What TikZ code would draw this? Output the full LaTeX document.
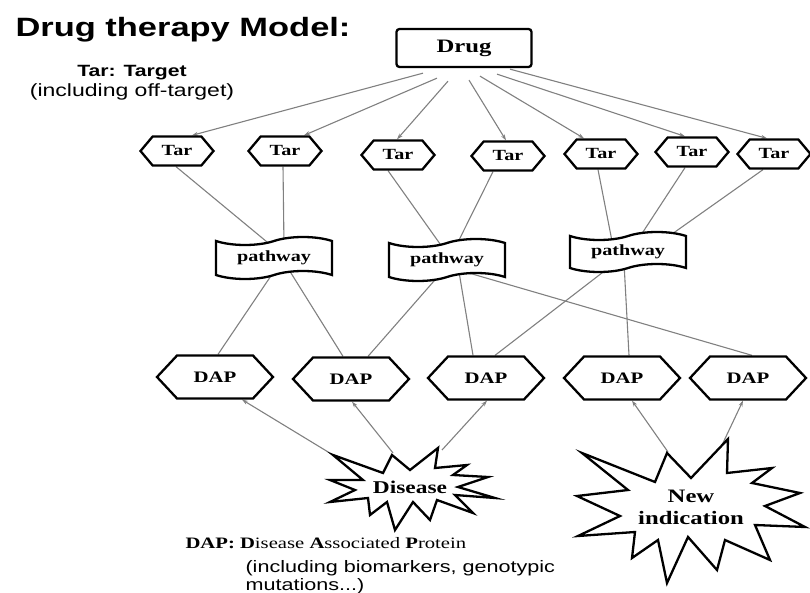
\documentclass[tikz,border=0pt]{standalone}
\usepackage{fontspec}
\setmainfont{Liberation Serif}
\setsansfont{Liberation Sans}
\usetikzlibrary{shapes.symbols,arrows.meta,backgrounds}
\newcommand{\wide}[1]{\scalebox{1.3}[1]{#1}}
\tikzset{
  box/.style={draw, fill=white, line width=2.3pt},
  tar/.style={box, signal, signal to=east and west, signal pointer angle=100,
    minimum width=73pt, minimum height=29pt, inner sep=0pt,
    font=\fontsize{15.5}{18}\selectfont\bfseries},
  dap/.style={box, signal, signal to=east and west, signal pointer angle=94,
    minimum width=116pt, minimum height=43pt, inner sep=0pt,
    font=\fontsize{16}{18}\selectfont\bfseries},
  pathbox/.style={box, tape, tape bend height=8pt, minimum width=116pt,
    minimum height=42pt, inner sep=0pt, font=\fontsize{15.5}{18}\selectfont\bfseries},
  burst/.style={box, line join=miter},
  link/.style={draw=gray, line width=1.1pt},
  arr/.style={link, -{Stealth[length=6pt,width=4pt]}}
}
\begin{document}
\begin{tikzpicture}[x=1pt,y=-1pt]
    \useasboundingbox (0,0) rectangle (810,593);
    % Titel und Legende
    \node[anchor=base west, font=\sffamily\bfseries\fontsize{26.5}{30}\selectfont]
      (title) at (12,37) {\wide{Drug therapy Model:}};
    \node[anchor=base, font=\sffamily\bfseries\fontsize{16.3}{20}\selectfont]
      (tarkey) at (132,77) {\wide{Tar: Target}};
    \node[anchor=base, font=\sffamily\fontsize{17.7}{20}\selectfont]
      (tarnote) at (132,97) {\wide{(including off-target)}};

    % Drug
    \node[box, rounded corners=3pt, minimum width=135pt, minimum height=38pt,
      font=\fontsize{19}{22}\selectfont\bfseries] (drug) at (464,48) {\wide{Drug}};

    % Targets
    \node[tar] (t1) at (177,151) {\wide{Tar}};
    \node[tar] (t2) at (285,151) {\wide{Tar}};
    \node[tar] (t3) at (398,155) {\wide{Tar}};
    \node[tar] (t4) at (508,156) {\wide{Tar}};
    \node[tar] (t5) at (601,154) {\wide{Tar}};
    \node[tar] (t6) at (692,152) {\wide{Tar}};
    \node[tar] (t7) at (774,154) {\wide{Tar}};

    % Pathways
    \node[pathbox] (p1) at (274,258) {\wide{pathway}};
    \node[pathbox] (p2) at (447,260) {\wide{pathway}};
    \node[pathbox, minimum height=40pt] (p3) at (628,252) {\wide{pathway}};

    % DAPs
    \node[dap] (d1) at (215,377) {\wide{DAP}};
    \node[dap] (d2) at (351,379) {\wide{DAP}};
    \node[dap] (d3) at (486,378) {\wide{DAP}};
    \node[dap] (d4) at (622,378) {\wide{DAP}};
    \node[dap] (d5) at (748,378) {\wide{DAP}};

    % Krankheit, neue Indikation
    \node[font=\fontsize{18}{20}\selectfont\bfseries]
      (dis) at (410,487) {\wide{Disease}};
    \node[align=center, font=\fontsize{19}{22}\selectfont\bfseries]
      (newind) at (691,507) {\wide{New}\\\wide{indication}};

    \node[anchor=base west, font=\fontsize{15.9}{18}\selectfont]
      (dapkey) at (182,548) {\wide{\textbf{DAP: D}isease \textbf{A}ssociated \textbf{P}rotein}};
    \node[anchor=base west, font=\sffamily\fontsize{16.6}{20}\selectfont]
      (dapnote1) at (242,572) {\wide{(including biomarkers, genotypic}};
    \node[anchor=base west, font=\sffamily\fontsize{16.6}{20}\selectfont]
      (dapnote2) at (242,590) {\wide{mutations...)}};

    \begin{scope}[on background layer]
    % Drug -> Tar
    \draw[arr] ([xshift=-41pt,yshift=-5pt]drug.south) -- ([xshift=15pt]t1.north);
    \draw[arr] ([xshift=-27pt,yshift=-10pt]drug.south) -- ([xshift=19pt]t2.north);
    \draw[arr] ([xshift=-16pt,yshift=-13pt]drug.south) -- ([xshift=-1pt]t3.north);
    \draw[arr] ([xshift=5pt,yshift=-12pt]drug.south) -- ([xshift=-2pt]t4.north);
    \draw[arr] ([xshift=16pt,yshift=-8pt]drug.south) -- ([xshift=-17pt]t5.north);
    \draw[arr] ([xshift=33pt,yshift=-6pt]drug.south) -- ([xshift=-7pt]t6.north);
    \draw[arr] ([xshift=46pt,yshift=-1pt]drug.south) -- ([xshift=-7pt]t7.north);

    % Tar -- pathway
    \draw[link] ([xshift=-1pt]t1.south) -- ([xshift=-2pt,yshift=-6pt]p1.north);
    \draw[link] ([xshift=-2pt]t2.south) -- ([xshift=10pt,yshift=-6pt]p1.north);
    \draw[link] ([xshift=-10pt]t3.south) -- ([xshift=-4pt,yshift=-6pt]p2.north);
    \draw[link] ([xshift=-15pt]t4.south) -- ([xshift=8pt,yshift=-6pt]p2.north);
    \draw[link] ([xshift=-3pt]t5.south) -- ([xshift=-16pt,yshift=-6pt]p3.north);
    \draw[link] ([xshift=-7pt]t6.south) -- ([xshift=9pt,yshift=-6pt]p3.north);
    \draw[link] ([xshift=-11pt]t7.south) -- ([xshift=34pt,yshift=-6pt]p3.north);

    % pathway -- DAP
    \draw[link] ([xshift=1pt,yshift=6pt]p1.south) -- ([xshift=3pt]d1.north);
    \draw[link] ([xshift=15pt,yshift=6pt]p1.south) -- ([xshift=-8pt]d2.north);
    \draw[link] ([xshift=-5pt,yshift=6pt]p2.south) -- ([xshift=17pt]d2.north);
    \draw[link] ([xshift=12pt,yshift=6pt]p2.south) -- ([xshift=-13pt]d3.north);
    \draw[link] ([xshift=18pt,yshift=6pt]p2.south) -- ([xshift=4pt]d5.north);
    \draw[link] ([xshift=-13pt,yshift=6pt]p3.south) -- ([xshift=9pt]d3.north);
    \draw[link] ([xshift=-4pt,yshift=6pt]p3.south) -- ([xshift=7pt]d4.north);

    % Disease / new indication -> DAP
    \draw[arr] ([xshift=-72pt,yshift=29pt]dis.center) -- ([xshift=27pt]d1.south);
    \draw[arr] ([xshift=-17pt,yshift=34pt]dis.center) -- ([xshift=1pt]d2.south);
    \draw[arr] ([xshift=32pt,yshift=37pt]dis.center) -- ([xshift=1pt]d3.south);
    \draw[arr] ([xshift=-23pt,yshift=55pt]newind.center) -- ([xshift=10pt]d4.south);
    \draw[arr] ([xshift=31pt,yshift=62pt]newind.center) -- ([xshift=-5pt]d5.south);

    % Sterne
    \begin{scope}[shift={(410,487)}]
    \draw[burst] (-77,-32) \foreach \p in {(-27,-14),(-18,-32),(0,-17),(28,-39),
      (25,-19),(57,-22),(43,-12),(78,-10),(48,0),(85,11),(45,8),(63,26),(27,13),
      (20,33),(3,15),(-15,43),(-23,15),(-40,28),(-42,11),(-80,15),(-55,3),
      (-80,-7),(-47,-7)} { -- \p } -- cycle;
    \end{scope}
    \begin{scope}[shift={(691,507)}]
    \draw[burst] (-109,-54) \foreach \p in {(-36,-25),(-24,-54),(0,-29),(37,-68),
      (36,-34),(81,-39),(61,-24),(109,-14),(74,-1),(114,20),(64,18),(79,53),
      (34,33),(26,63),(-3,30),(-24,76),(-33,33),(-59,51),(-56,25),(-113,29),
      (-71,9),(-114,-11),(-63,-17)} { -- \p } -- cycle;
    \end{scope}
    \end{scope}
\end{tikzpicture}
\end{document}
